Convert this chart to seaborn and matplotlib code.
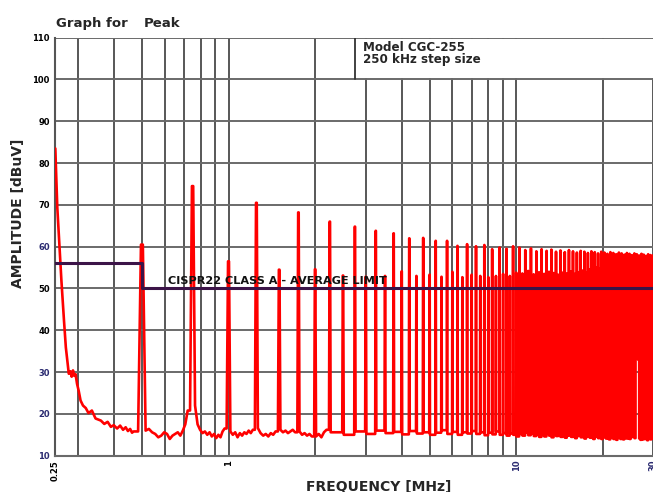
import numpy as np
import pandas as pd
import seaborn as sns
import matplotlib.pyplot as plt
from matplotlib.patches import Rectangle

# harmonic spacing of the switching spectrum (MHz)
step_mhz = 0.25

# start of sweep: steep decay from 0.25 MHz down to the noise floor
start_freq = [0.25, 0.254, 0.2625, 0.268, 0.272, 0.2785, 0.282, 0.285, 0.288,
              0.291, 0.294, 0.2975, 0.3015, 0.306, 0.312, 0.319, 0.326, 0.335,
              0.345, 0.36, 0.37, 0.38, 0.39, 0.399, 0.41, 0.42, 0.43, 0.439,
              0.447, 0.455, 0.462, 0.468]
start_db = [83.5, 69.4, 51.9, 42.3, 35.9, 29.6, 30.2, 28.9, 30.4, 29.1, 29.5,
            27.2, 25.5, 23.2, 22.0, 21.4, 20.2, 20.8, 18.9, 18.4, 17.6, 18.1,
            16.9, 17.3, 16.5, 17.2, 16.2, 16.8, 15.9, 16.4, 15.5, 15.8]

# peak levels of the harmonics, dBuV
even_peaks = [60.5, 56.5, 54.5, 54.6, 53.1, 52.8, 53.0, 54.1, 53.0, 53.3,   # 0.5 .. 5.0
              52.8, 54.0, 52.7, 53.3, 53.0, 52.7, 53.0, 53.5, 53.0, 53.8,   # 5.5 .. 10
              53.6, 54.2, 53.4, 53.9, 53.5, 54.0, 53.7, 53.3, 53.8, 53.6,
              54.1, 53.5, 53.9, 54.3, 53.8, 54.6, 54.2, 55.0, 54.7, 55.3,
              55.0, 55.6, 55.4, 56.0, 55.7, 56.3, 56.1, 56.6, 56.4, 56.8,
              56.5, 56.9, 56.7, 57.0, 56.8, 57.1, 56.9, 57.2, 57.0, 56.8]
odd_peaks = [74.5, 70.5, 68.2, 66.0, 64.8, 63.8, 63.2, 62.0, 62.1, 61.4,    # 0.75 .. 5.25
             61.4, 60.2, 60.6, 60.1, 60.4, 59.4, 59.8, 59.5, 60.1,          # .. 9.75
             59.8, 59.2, 59.6, 58.9, 59.4, 59.0, 59.3, 58.8, 59.1, 58.7,
             59.2, 58.9, 58.6, 59.0, 58.8, 58.5, 58.9, 58.7, 58.4, 58.8,
             58.6, 58.3, 58.7, 58.5, 58.2, 58.6, 58.4, 58.1, 58.5, 58.3,
             58.0, 58.4, 58.2, 57.9, 58.3, 58.1, 57.8, 58.2, 58.0, 57.9]

# noise floor readings inside the wide gaps (0.5 .. 2.25 MHz)
low_gap_noise = [
    [16.0, 16.4, 15.6, 15.2, 14.4, 14.8, 15.6, 15.2, 14.0, 14.8, 15.2, 15.6, 14.8, 16.0, 17.5, 20.8],
    [22.0, 17.5, 16.2, 15.4, 15.8, 15.0, 15.6, 14.6, 15.2, 14.2, 15.0, 14.4, 15.8, 16.5],
    [15.8, 15.0, 15.6, 14.4, 15.4, 14.8, 15.6, 15.2, 16.0, 15.4, 16.2],
    [16.6, 15.4, 14.8, 15.2, 14.6, 15.4, 15.0, 15.8],
    [16.2, 15.6, 16.0, 15.4, 15.8, 16.2, 15.6],
    [15.8, 15.0, 15.4, 14.8, 15.2, 14.6],
    [14.6, 15.2, 14.4, 15.6, 16.2],
]
# one floor level per remaining gap (2.25 .. 30 MHz)
gap_floor = [15.6, 15.0, 15.8, 15.2, 16.0, 15.4, 15.7, 15.1, 15.9, 15.3,
             15.6, 15.0, 15.5, 16.1, 15.2, 15.7, 15.0, 15.6, 15.3, 15.9,
             15.2, 15.6, 14.9, 15.5, 15.1, 15.8, 15.0, 15.4, 14.8, 15.3,
             15.0, 14.6, 15.2, 14.8, 15.5, 14.9, 15.3, 14.7, 15.1, 14.5,
             15.0, 14.6, 15.3, 14.8, 14.4, 15.1, 14.7, 15.2, 14.5, 14.9,
             14.3, 14.8, 15.0, 14.5, 14.9, 14.2, 14.7, 15.1, 14.4, 14.8,
             14.1, 14.6, 15.0, 14.3, 14.7, 14.0, 14.5, 14.9, 14.2, 14.6,
             14.0, 14.4, 14.8, 14.1, 14.5, 13.9, 14.3, 14.7, 14.0, 14.4,
             13.8, 14.3, 14.6, 14.0, 14.4, 13.9, 14.2, 14.6, 14.1, 14.5,
             14.0, 14.4, 15.2, 14.6, 14.2, 50.0, 43.0, 33.0, 14.1, 13.8,
             14.3, 13.9, 14.4, 14.0, 14.5, 13.7, 14.2, 14.6, 13.9, 14.3,
             14.1]

# CISPR22 class A average limit
limit_freq = [0.25, 0.5, 0.5, 30]
limit_db = [56, 56, 50, 50]

x_ticks = [0.25, 1, 10, 30]
x_tick_labels = ['0.25', '1', '10', '30']
y_ticks = [10, 20, 30, 40, 50, 60, 70, 80, 90, 100, 110]

# ---- assemble the measured trace ----
harm_n = np.arange(2, 121)
peaks = np.empty(len(harm_n))
peaks[0::2] = even_peaks
peaks[1::2] = odd_peaks
gaps = [list(g) for g in low_gap_noise] + [[v] for v in gap_floor] + [[gap_floor[-1]]]

fx = list(start_freq)
fy = list(start_db)
w = 0.015
for i, n in enumerate(harm_n):
    f = n * step_mhz
    fx += [f - w, f - w / 4, f + w / 4]
    fy += [fy[-1], peaks[i], peaks[i]]
    g = gaps[i]
    pos = np.linspace(f + w, f + step_mhz - w, len(g) + 1)[:-1] if len(g) > 1 else [f + w]
    fx += list(pos)
    fy += g
trace = pd.DataFrame({'freq': fx, 'level': fy})
limit = pd.DataFrame({'freq': limit_freq, 'level': limit_db})

sns.set_theme(style='white')
plt.rcParams['font.family'] = ['DejaVu Sans']

fig = plt.figure(figsize=(6.53, 4.92), dpi=100)
ax = fig.add_axes([0.0847, 0.0738, 0.916, 0.8496])

sns.lineplot(data=trace, x='freq', y='level', color='#ff0000', lw=1.9,
             sort=False, estimator=None, ax=ax, zorder=3)
sns.lineplot(data=limit, x='freq', y='level', color='#3c1448', lw=2.2,
             sort=False, estimator=None, ax=ax, zorder=4)

ax.set_xscale('log')
ax.set_xlim(0.25, 30)
ax.set_ylim(10, 110)

minor = [0.3, 0.4, 0.5, 0.6, 0.7, 0.8, 0.9, 2, 3, 4, 5, 6, 7, 8, 9, 20]
ax.set_xticks(x_ticks)
ax.set_xticklabels(x_tick_labels, rotation=90, fontsize=6, fontweight='bold')
ax.set_xticks(minor, minor=True)
ax.set_xticklabels([], minor=True)
ax.set_yticks(y_ticks)
ax.set_yticklabels([str(v) for v in y_ticks], fontsize=6, fontweight='bold')
ax.tick_params(axis='x', which='both', length=0, pad=3)
ax.tick_params(axis='y', length=3, width=1, color='#555555', pad=1)

navy = '#2a2a70'
for lab, v in zip(ax.get_yticklabels(), y_ticks):
    lab.set_color(navy if v in (10, 20, 30, 60) else 'black')
for lab, t in zip(ax.get_xticklabels(), x_tick_labels):
    lab.set_color('black' if t in ('0.25', '1') else navy)

ax.grid(which='both', axis='x', color='#4a4a4a', lw=1.3, zorder=1)
ax.grid(which='major', axis='y', color='#6a6a6a', lw=1.4, zorder=1)
ax.set_axisbelow(True)
for s in ['top', 'right']:
    ax.spines[s].set_visible(False)
ax.spines['left'].set_color('#555555')
ax.spines['left'].set_linewidth(1.5)
ax.spines['bottom'].set_color('#6a6a6a')
ax.spines['bottom'].set_linewidth(1.5)

# legend box at the top right covering the grid
box_f = 2.76
ax.add_patch(Rectangle((box_f, 100.4), 40, 9.2, facecolor='white', edgecolor='none', zorder=2))
ax.plot([box_f, box_f], [100, 110], color='#333333', lw=1.3, zorder=2)
ax.text(2.93, 109.1, 'Model CGC-255\n250 kHz step size', fontsize=8.6,
        fontweight='bold', va='top', linespacing=0.85, zorder=5)

ax.text(0.614, 51.1, 'CISPR22 CLASS A - AVERAGE LIMIT', fontsize=8.1,
        fontweight='bold', va='baseline', color='#111111', zorder=5)

fig.text(56 / 653, 1 - 27 / 492, 'Graph for', fontsize=9.5, fontweight='bold', va='baseline')
fig.text(144 / 653, 1 - 27 / 492, 'Peak', fontsize=9.5, fontweight='bold', va='baseline')

ax.set_xlabel('FREQUENCY [MHz]', fontsize=10, fontweight='bold')
ax.set_ylabel('AMPLITUDE [dBuV]', fontsize=10, fontweight='bold')
ax.xaxis.set_label_coords(0.54, -0.075)
ax.yaxis.set_label_coords(-0.062, 0.58)
ax.xaxis.label.set_va('center')
ax.yaxis.label.set_va('center')

fig.savefig('out.png', dpi=100)
